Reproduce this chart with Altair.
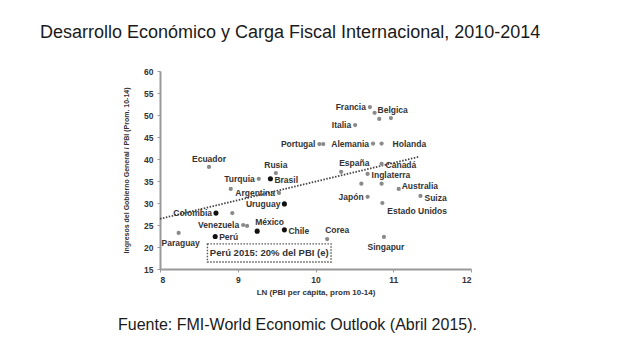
import altair as alt
import pandas as pd

# ---- data ----
names = ["Francia", "Belgica", "p1", "p2", "Italia", "Portugal", "p3", "Alemania", "Holanda",
         "España", "Canadá", "Inglaterra", "p4", "p5", "Australia", "Suiza", "Japón",
         "Estado Unidos", "Corea", "Singapur", "Ecuador", "Rusia", "Turquia", "Brasil", "p6",
         "Argentina", "Uruguay", "Colombia", "p7", "Venezuela", "p8", "México", "Chile",
         "Perú", "Paraguay"]
ln_pbi = [10.70, 10.76, 10.82, 10.97, 10.51, 10.05, 10.10, 10.74, 10.85,
          10.33, 10.85, 10.67, 10.59, 10.85, 11.07, 11.35, 10.67,
          10.86, 10.15, 10.88, 8.63, 9.49, 9.27, 9.42, 8.91,
          9.53, 9.60, 8.72, 8.93, 9.07, 9.12, 9.25, 9.60,
          8.71, 8.24]
ingresos = [51.8, 50.5, 49.1, 49.3, 47.7, 43.4, 43.4, 43.5, 43.5,
            37.1, 38.9, 36.6, 34.4, 34.4, 33.2, 31.6, 31.4,
            30.0, 21.8, 22.3, 38.2, 36.8, 35.5, 35.5, 33.2,
            32.3, 29.8, 27.7, 27.7, 25.0, 24.8, 23.6, 23.9,
            22.4, 23.2]
highlight = ["Brasil", "Uruguay", "Colombia", "México", "Chile", "Perú"]

trend_x = [8.0, 11.33]
trend_y = [26.4, 40.5]

box_x = [8.61, 10.2]
box_y = [16.6, 20.7]
box_text = "Perú 2015: 20% del PBI (e)"

title_text = "Desarrollo Económico y Carga Fiscal Internacional, 2010-2014"
source_text = "Fuente: FMI-World Economic Outlook (Abril 2015)."
x_title = "LN (PBI per cápita, prom 10-14)"
y_title = "Ingresos del Gobierno General / PBI (Prom. 10-14)"
x_ticks = [8, 9, 10, 11, 12]
y_ticks = [15, 20, 25, 30, 35, 40, 45, 50, 55, 60]

# label placement groups
left_lbl = ["Francia", "Italia", "Portugal", "Alemania", "Turquia", "Argentina", "Uruguay",
            "Colombia", "Venezuela", "Japón"]
right_lbl = ["Canadá", "Inglaterra", "Brasil", "Chile", "Perú"]
right_up_lbl = ["Belgica", "Australia"]
right_down_lbl = ["Suiza"]
right_far_lbl = ["Holanda"]
above_lbl = ["Ecuador", "Rusia"]
above_left_lbl = ["México", "Corea", "España"]
below_lbl = ["Paraguay", "Singapur"]
below_left_lbl = ["Estado Unidos"]

df = pd.DataFrame({"pais": names, "x": ln_pbi, "y": ingresos})
df["grupo"] = ["Destacado" if n in highlight else "Otro" for n in names]
trend = pd.DataFrame({"x": trend_x, "y": trend_y})
box = pd.DataFrame({"x": [box_x[0]], "x2": [box_x[1]], "y": [box_y[0]], "y2": [box_y[1]],
                    "t": [box_text], "xc": [sum(box_x) / 2], "yc": [sum(box_y) / 2]})

FONT = "Liberation Sans"
xs = alt.Scale(domain=[8, 12], nice=False, zero=False)
ys = alt.Scale(domain=[15, 60], nice=False, zero=False)
x_axis = alt.Axis(values=x_ticks, title=x_title, format="d", labelOverlap=False)
y_axis = alt.Axis(values=y_ticks, title=y_title, format="d", labelOverlap=False)


def X(field):
    return alt.X(field, type="quantitative", scale=xs, axis=x_axis)


def Y(field):
    return alt.Y(field, type="quantitative", scale=ys, axis=y_axis)


base = alt.Chart(df)

trend_line = alt.Chart(trend).mark_line(
    color="#444", strokeDash=[1.5, 1.5], strokeWidth=1.8
).encode(x=X("x"), y=Y("y"))

points = base.mark_circle(opacity=1).encode(
    x=X("x"),
    y=Y("y"),
    color=alt.Color("grupo:N", scale=alt.Scale(domain=["Destacado", "Otro"],
                                               range=["#111111", "#8a8a8a"]), legend=None),
    size=alt.Size("grupo:N", scale=alt.Scale(domain=["Destacado", "Otro"], range=[26, 18]),
                  legend=None),
)


def labels(group, align, dx, dy):
    return base.transform_filter(
        alt.FieldOneOfPredicate(field="pais", oneOf=group)
    ).mark_text(align=align, baseline="middle", dx=dx, dy=dy, font=FONT, fontSize=8.5,
                fontWeight="bold", color="#333").encode(
        x=X("x"), y=Y("y"), text="pais:N")


lbls = [
    labels(left_lbl, "right", -4, 0),
    labels(right_lbl, "left", 4, 1),
    labels(right_up_lbl, "left", 3, -3),
    labels(right_down_lbl, "left", 4, 2),
    labels(right_far_lbl, "left", 11, 0),
    labels(above_lbl, "center", 0, -8),
    labels(above_left_lbl, "left", -2, -9),
    labels(below_lbl, "center", 2, 10),
    labels(below_left_lbl, "left", 5, 8),
]

box_rect = alt.Chart(box).mark_rect(
    fill=None, stroke="#555", strokeDash=[1.5, 1.5], strokeWidth=1.4
).encode(x=X("x"), x2="x2:Q", y=Y("y"), y2="y2:Q")

box_lbl = alt.Chart(box).mark_text(
    font=FONT, fontSize=9.5, fontWeight="bold", color="#333", baseline="middle"
).encode(x=X("xc"), y=Y("yc"), text="t:N")

title = alt.Chart(pd.DataFrame({"t": [title_text]})).mark_text(
    align="left", baseline="middle", font=FONT, fontSize=18, color="#1a1a1a"
).encode(x=alt.value(-120), y=alt.value(-38), text="t:N")

source = alt.Chart(pd.DataFrame({"t": [source_text]})).mark_text(
    align="left", baseline="middle", font=FONT, fontSize=16, color="#1a1a1a"
).encode(x=alt.value(-42), y=alt.value(254), text="t:N")

chart = alt.layer(
    trend_line, box_rect, box_lbl, points, *lbls, title, source
).properties(
    width=311, height=198,
    autosize=alt.AutoSizeParams(type="none"),
    padding={"left": 160, "top": 71, "right": 169, "bottom": 88},
    background="white",
).configure_view(stroke=None).configure_axis(
    labelFont=FONT, titleFont=FONT, labelFontWeight="bold", titleFontWeight="bold",
    labelFontSize=8.5, labelColor="#333", titleColor="#333", domainColor="#999",
    domainWidth=2, tickColor="#999", tickSize=3, grid=False,
).configure_axisX(titleFontSize=8, titlePadding=5, labelPadding=3)\
 .configure_axisY(titleFontSize=7, titlePadding=14, labelPadding=4)

chart.save("out.html", embed_options={"renderer": "svg", "actions": False})
